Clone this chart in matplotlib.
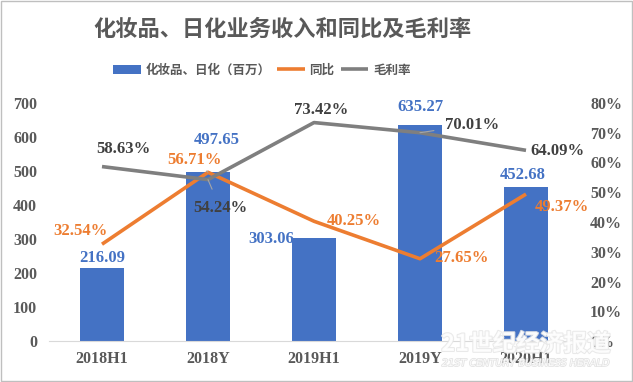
#chart: cosmetics / daily chemical revenue with yoy and gross margin

import numpy as np
import matplotlib.pyplot as plt
import matplotlib.patheffects as pe
from matplotlib.patches import Rectangle

categories = ['2018H1', '2018Y', '2019H1', '2019Y', '2020H1']
revenue = [216.09, 497.65, 303.06, 635.27, 452.68]
yoy = [32.54, 56.71, 40.25, 27.65, 49.37]
margin = [58.63, 54.24, 73.42, 70.01, 64.09]

title = '化妆品、日化业务收入和同比及毛利率'
legend_labels = ['化妆品、日化（百万）', '同比', '毛利率']

blue = '#4472C4'
orange = '#ED7D31'
gray = '#7F7F7F'
txt = '#404040'
serif = 'Liberation Serif'
cjk = ['Noto Sans CJK SC', 'DejaVu Sans']

# label offsets in pixels (dx, dy) relative to the data point
bar_off = [(0, 10), (9, 32), (-43, -1), (0, 18), (-3, 12)]
yoy_off = [(-22, 13), (-14, 12), (40, 0), (41, 1), (36, -13)]
mar_off = [(21, 18), (12, -28), (7, 13), (52, 8), (31, -1)]
yoy_lead = [False, True, False, False, False]
mar_lead = [False, True, False, True, False]

fig = plt.figure(figsize=(6.33, 3.82), dpi=100)
ax = fig.add_axes([49/633, 41/382, 530/633, 238/382])
ax2 = ax.twinx()

x = np.arange(len(categories))
bars = ax.bar(x, revenue, width=0.415, color=blue, zorder=2)
l1, = ax2.plot(x, yoy, color=orange, linewidth=2.6, solid_capstyle='butt')
l2, = ax2.plot(x, margin, color=gray, linewidth=2.6, solid_capstyle='butt')

ax.set_xlim(-0.5, len(categories)-0.5)
ax.set_ylim(0, 700)
ax2.set_ylim(0, 80)
ax.set_yticks(range(0, 701, 100))
ax2.set_yticks(range(0, 81, 10))
ax2.set_yticklabels([f'{v}%' for v in range(0, 81, 10)])
ax.set_xticks(x)
ax.set_xticklabels(categories)

for a in (ax, ax2):
    for s in a.spines.values():
        s.set_visible(False)
    a.tick_params(length=0, labelsize=11.5, labelcolor='#595959')
    for lab in a.get_xticklabels() + a.get_yticklabels():
        lab.set_fontfamily(serif)
        lab.set_fontweight('bold')
ax.spines['bottom'].set_visible(True)
ax.spines['bottom'].set_color('#D9D9D9')
ax.tick_params(axis='y', pad=8.5)
ax.tick_params(axis='x', pad=7)
ax2.tick_params(axis='y', pad=8)

def px(o):
    return (o[0]*0.72, o[1]*0.72)

for i, v in enumerate(revenue):
    ax.annotate(f'{v:.2f}', (x[i], v), xytext=px(bar_off[i]), textcoords='offset points',
                ha='center', va='center', color=blue, fontsize=12, fontweight='bold',
                fontfamily=serif, zorder=5)

for vals, offs, leads, col in ((yoy, yoy_off, yoy_lead, orange), (margin, mar_off, mar_lead, txt)):
    for i, v in enumerate(vals):
        kw = {}
        if leads[i]:
            kw['arrowprops'] = dict(arrowstyle='-', color='#A6A6A6', lw=0.8, shrinkA=6, shrinkB=0)
        ax2.annotate(f'{v:.2f}%', (x[i], v), xytext=px(offs[i]), textcoords='offset points',
                     ha='center', va='center', color=col, fontsize=12, fontweight='bold',
                     fontfamily=serif, zorder=5, **kw)

fig.text(282/633, 1-29/382, title, ha='center', va='center', fontsize=16,
         fontweight='heavy', color='#595959', family=cjk)

fig.legend([bars, l1, l2], legend_labels, loc='center', bbox_to_anchor=(262/633, 1-70/382),
           ncol=3, frameon=False, handlelength=2.2, handletextpad=0.4, columnspacing=0.5,
           prop={'family': cjk, 'size': 9, 'weight': 'bold'}, labelcolor='#595959')

# watermark
wm = fig.text(526/633, 1-344/382, '21世纪经济报道', ha='center', va='center', fontsize=17,
              fontweight='bold', color='white', alpha=0.85, family=cjk, zorder=10)
wm.set_path_effects([pe.withStroke(linewidth=1.5, foreground='#E6E6E6')])
wm2 = fig.text(526/633, 1-363/382, '21ST CENTURY BUSINESS HERALD', ha='center', va='center',
               fontsize=7, style='italic', color='white', alpha=0.85, zorder=10)
wm2.set_path_effects([pe.withStroke(linewidth=1.2, foreground='#E0E0E0')])

fig.patches.append(Rectangle((0.001, 0.002), 0.997, 0.995, transform=fig.transFigure,
                             fill=False, edgecolor='#BFBFBF', linewidth=1))

fig.savefig('out.png', dpi=100)
